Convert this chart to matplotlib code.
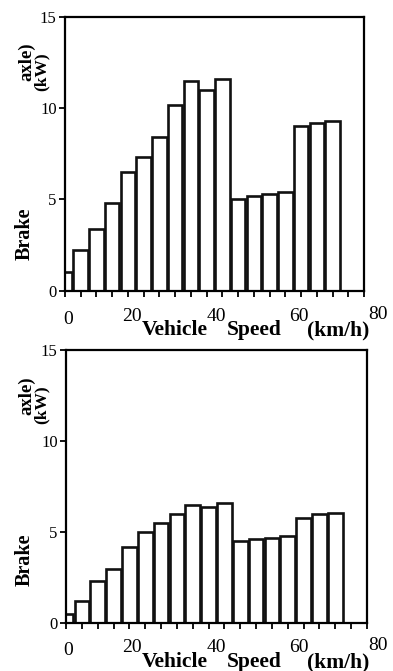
import matplotlib.pyplot as plt
import numpy as np

# vehicle speed (km/h) for each bar and brake power (kW)
speed = [0, 4, 8, 12, 16, 20, 24, 28, 32, 36, 40, 44, 48, 52, 56, 60, 64, 68]
brake_top = [1.0, 2.2, 3.4, 4.8, 6.5, 7.3, 8.4, 10.2, 11.5, 11.0, 11.6,
             5.0, 5.2, 5.3, 5.4, 9.0, 9.2, 9.3]
brake_bottom = [0.5, 1.2, 2.3, 3.0, 4.2, 5.0, 5.5, 6.0, 6.5, 6.4, 6.6,
                4.5, 4.6, 4.7, 4.8, 5.8, 6.0, 6.05]
y_ticks = [0, 5, 10, 15]

plt.rcParams['font.family'] = ['Liberation Serif', 'DejaVu Serif']

W, H = 393, 671
fig = plt.figure(figsize=(W / 100, H / 100), dpi=100)


def px(x, y):
    # pixel position -> figure fraction
    return x / W, 1 - y / H


def draw_panel(rect, values, row_y, ylab_y):
    ax = fig.add_axes(rect)
    ax.bar(speed, values, width=3.7, color='white', edgecolor='#111111',
           linewidth=1.9)
    ax.set_xlim(0, 76)
    ax.set_ylim(0, 15)
    ax.set_xticks(np.arange(0, 77, 4))
    ax.set_xticklabels([])
    ax.set_yticks(y_ticks)
    ax.set_yticklabels([str(t) for t in y_ticks], fontsize=12)
    ax.tick_params(direction='out', length=4, width=1.3, pad=2)
    for s in ax.spines.values():
        s.set_linewidth(1.6)

    # odd label row: numbers interleaved with the axis title words
    nb, wb = row_y
    items = [('0', 63, nb + 3, 'normal', 14), ('20', 122, nb, 'normal', 14),
             ('Vehicle', 142, wb, 'bold', 15.5), ('40', 207, nb, 'normal', 14),
             ('Speed', 227, wb, 'bold', 15.5), ('60', 289, nb, 'normal', 14),
             ('(km/h)', 307, wb, 'bold', 15.5), ('80', 368, nb - 2, 'normal', 14)]
    for txt, x, y, w, fs in items:
        fx, fy = px(x, y)
        fig.text(fx, fy, txt, ha='left', va='baseline', fontsize=fs,
                 fontweight=w)

    by, ay, ky = ylab_y
    fig.text(*px(25, by), 'Brake', rotation=90, ha='center', va='center',
             fontsize=14.5, fontweight='bold')
    fig.text(*px(27, ay), 'axle)', rotation=90, ha='center', va='center',
             fontsize=13.5, fontweight='bold')
    fig.text(*px(42, ky), '(kW)', rotation=90, ha='center', va='center',
             fontsize=12.5, fontweight='bold')
    return ax


l, b = px(65, 290.5)
r, t = px(364, 17)
draw_panel([l, b, r - l, t - b], brake_top, (321, 335), (234, 62, 72))

l, b = px(66, 623.3)
r, t = px(367, 350)
draw_panel([l, b, r - l, t - b], brake_bottom, (652, 667), (560, 396, 405))

fig.savefig('out.png', dpi=100)
